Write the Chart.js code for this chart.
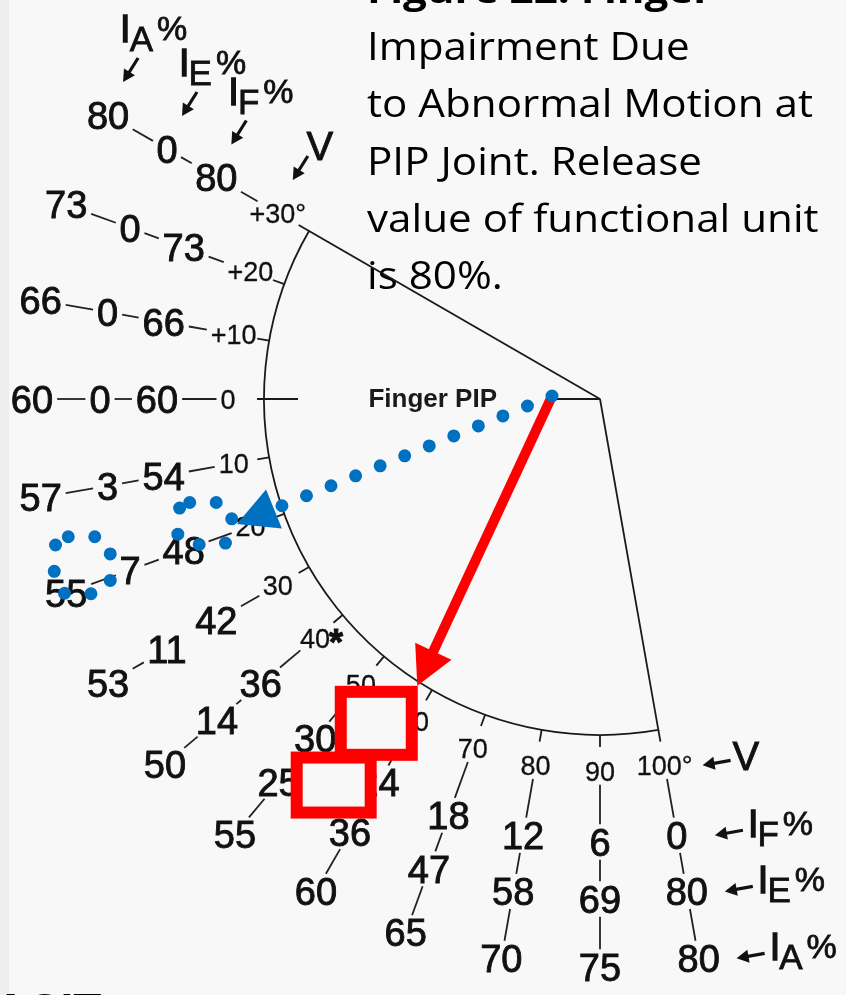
<!DOCTYPE html>
<html>
<head>
<meta charset="utf-8">
<script src="https://cdn.jsdelivr.net/npm/chart.js@4"></script>
<style>
  html, body { margin: 0; padding: 0; background: #f8f8f8; }
  #wrap { width: 846px; height: 995px; position: relative; }
</style>
</head>
<body>
<div id="wrap"><canvas id="pip-chart"></canvas></div>
<script>
// PIP joint angle (V) and the impairment values read along each spoke
const angles = [-30, -20, -10, 0, 10, 20, 30, 40, 50, 60, 70, 80, 90, 100];
const angleLabels = ['+30°', '+20', '+10', '0', '10', '20', '30', '40*', '50', '60', '70', '80', '90', '100°'];
const impFlexion = [80, 73, 66, 60, 54, 48, 42, 36, 30, 24, 18, 12, 6, 0];      // IF%
const impExtension = [0, 0, 0, 0, 3, 7, 11, 14, 25, 36, 47, 58, 69, 80];         // IE%
const impAnkylosis = [80, 73, 66, 60, 57, 55, 53, 50, 55, 60, 65, 70, 75, 80];   // IA%

// annotation angles (hand marks on the figure)
const redArrowAngle = 57.5;
const blueArrowAngle = 19;
const answerAngle = 55.4;
const circledAngle = 20;

const titleLines = ['Figure 22. Finger', 'Impairment Due', 'to Abnormal Motion at',
  'PIP Joint. Release', 'value of functional unit', 'is 80%.'];

const CX = 600, CY = 399;   // joint centre
const ARC_R = 336;
const FONT = '"Liberation Sans", Arial, sans-serif';
const BLUE = '#0070c0';
const RED = '#ff0000';
const BG = '#f8f8f8';

function polar(deg, r) {
  const a = deg * Math.PI / 180;
  return { x: CX - r * Math.cos(a), y: CY + r * Math.sin(a) };
}

const rings = [
  { name: 'V', radius: 372, text: angleLabels, size: 27, weight: 0.3 },
  { name: 'F', radius: 443, text: impFlexion, size: 38, weight: 0.9 },
  { name: 'E', radius: 500, text: impExtension, size: 38, weight: 0.9 },
  { name: 'A', radius: 568, text: impAnkylosis, size: 38, weight: 0.9 },
];

// text with a thin outline so it reads as heavy as the scanned figure
function heavyText(ctx, txt, x, y, weight) {
  ctx.fillText(txt, x, y);
  if (weight > 0) {
    ctx.lineWidth = weight;
    ctx.strokeStyle = ctx.fillStyle;
    ctx.strokeText(txt, x, y);
  }
}

function drawArrow(ctx, from, to, width, headLen, headHalf, color) {
  const dx = to.x - from.x, dy = to.y - from.y;
  const len = Math.hypot(dx, dy);
  const ux = dx / len, uy = dy / len;
  const bx = to.x - ux * headLen, by = to.y - uy * headLen;
  ctx.strokeStyle = color;
  ctx.fillStyle = color;
  ctx.lineWidth = width;
  ctx.lineCap = 'butt';
  ctx.beginPath();
  ctx.moveTo(from.x, from.y);
  ctx.lineTo(bx + ux * 2, by + uy * 2);
  ctx.stroke();
  ctx.beginPath();
  ctx.moveTo(to.x, to.y);
  ctx.lineTo(bx - uy * headHalf, by + ux * headHalf);
  ctx.lineTo(bx + uy * headHalf, by - ux * headHalf);
  ctx.closePath();
  ctx.fill();
}

function drawIndexLabel(ctx, x, y, sub) {
  ctx.fillStyle = '#111';
  ctx.textAlign = 'left';
  ctx.textBaseline = 'alphabetic';
  ctx.font = '38px ' + FONT;
  heavyText(ctx, 'I', x, y, 1.4);
  const wI = ctx.measureText('I').width;
  ctx.font = '35px ' + FONT;
  heavyText(ctx, sub, x + wI - 1, y + 9, 0.8);
  const wS = ctx.measureText(sub).width;
  ctx.font = '34px ' + FONT;
  heavyText(ctx, '%', x + wI + wS + 3, y - 2, 0.8);
}

const diagramPlugin = {
  id: 'pipDiagram',
  beforeDraw(chart) {
    const { ctx, width, height } = chart;
    ctx.save();
    ctx.fillStyle = BG;
    ctx.fillRect(0, 0, width, height);
    ctx.fillStyle = '#eeeeee';
    ctx.fillRect(0, 0, 9, height);
    ctx.restore();
  },
  beforeDatasetsDraw(chart) {
    const { ctx } = chart;
    const sx = chart.scales.x, sy = chart.scales.y;
    const P = p => ({ x: sx.getPixelForValue(p.x), y: sy.getPixelForValue(p.y) });
    const k = sx.getPixelForValue(1) - sx.getPixelForValue(0);
    const c = P({ x: CX, y: CY });
    ctx.save();

    // title block
    ctx.fillStyle = '#000';
    ctx.textAlign = 'left';
    ctx.textBaseline = 'alphabetic';
    ctx.font = '38px "Open Sans", sans-serif';
    const fit = 446 / ctx.measureText(titleLines[2]).width;
    titleLines.forEach((line, i) => {
      ctx.save();
      ctx.font = (i === 0 ? 'bold ' : '') + '38px "Open Sans", sans-serif';
      ctx.translate(367, 3 + i * 57.2);
      ctx.scale(fit, 1);
      ctx.fillText(line, 0, 0);
      ctx.restore();
    });

    // sector outline
    ctx.strokeStyle = '#1a1a1a';
    ctx.lineWidth = 1.8;
    const top = P(polar(angles[0], ARC_R));
    const a0 = Math.PI - angles[0] * Math.PI / 180;
    const a1 = Math.PI - angles[angles.length - 1] * Math.PI / 180;
    ctx.beginPath();
    ctx.moveTo(c.x, c.y);
    ctx.lineTo(top.x, top.y);
    ctx.arc(c.x, c.y, ARC_R * k, a0, a1, true);
    ctx.lineTo(c.x, c.y);
    ctx.stroke();

    // short baseline at 0 deg toward the label
    const base = P(polar(0, 45));
    ctx.beginPath();
    ctx.moveTo(c.x, c.y);
    ctx.lineTo(base.x, base.y);
    ctx.stroke();

    // ticks
    angles.forEach(a => {
      const inner = a === 0 ? ARC_R - 34 : ARC_R;
      const outer = a === 0 ? ARC_R + 7 : ARC_R + 12;
      const p1 = P(polar(a, inner)), p2 = P(polar(a, outer));
      ctx.beginPath();
      ctx.moveTo(p1.x, p1.y);
      ctx.lineTo(p2.x, p2.y);
      ctx.stroke();
    });

    ctx.fillStyle = '#1a1a1a';
    ctx.font = 'bold 26px ' + FONT;
    ctx.textAlign = 'right';
    ctx.fillText('Finger PIP', c.x - 103, c.y + 8);

    // cut-off text at the bottom-left
    ctx.fillStyle = '#000';
    ctx.textAlign = 'left';
    ctx.font = 'bold 46px ' + FONT;
    ctx.fillText('ACIT', -6, 1026);
    ctx.restore();
  },
  afterDatasetsDraw(chart) {
    const { ctx } = chart;
    const sx = chart.scales.x, sy = chart.scales.y;
    const P = p => ({ x: sx.getPixelForValue(p.x), y: sy.getPixelForValue(p.y) });
    ctx.save();

    // value labels on every spoke
    ctx.fillStyle = '#111';
    ctx.textBaseline = 'alphabetic';
    const boxes = rings.map((ring, d) => {
      const meta = chart.getDatasetMeta(d);
      return meta.data.map((el, i) => {
        const raw = String(ring.text[i]);
        const star = raw.endsWith('*');
        const txt = star ? raw.slice(0, -1) : raw;
        ctx.font = ring.size + 'px ' + FONT;
        const w = ctx.measureText(txt).width;
        const h = ring.size * 0.72;
        ctx.textAlign = 'center';
        heavyText(ctx, txt, el.x, el.y + h / 2, ring.weight);
        if (star) {
          ctx.font = 'bold 36px ' + FONT;
          ctx.textAlign = 'left';
          heavyText(ctx, '*', el.x + w / 2 - 1, el.y + h / 2 + 7, 1);
        }
        return { x: el.x, y: el.y, w, h };
      });
    });

    // connectors between successive labels
    ctx.strokeStyle = '#222';
    ctx.lineWidth = 1.8;
    const gap = 4;
    const trim = (b, ux, uy) => Math.min(
      Math.abs(ux) > 1e-6 ? b.w / 2 / Math.abs(ux) : Infinity,
      Math.abs(uy) > 1e-6 ? b.h / 2 / Math.abs(uy) : Infinity) + gap;
    angles.forEach((a, i) => {
      for (let d = 0; d < rings.length - 1; d++) {
        const p = boxes[d][i], q = boxes[d + 1][i];
        const dx = q.x - p.x, dy = q.y - p.y;
        const len = Math.hypot(dx, dy);
        const ux = dx / len, uy = dy / len;
        const t0 = trim(p, ux, uy), t1 = len - trim(q, ux, uy);
        if (t1 - t0 < 3) continue;
        ctx.beginPath();
        ctx.moveTo(p.x + ux * t0, p.y + uy * t0);
        ctx.lineTo(p.x + ux * t1, p.y + uy * t1);
        ctx.stroke();
      }
    });

    // legend pointers at both ends of the scale
    const first = 0, last = angles.length - 1;
    rings.forEach((ring, d) => {
      const pt = boxes[d][first];
      const tip = { x: pt.x + 15, y: pt.y - 33 };
      drawArrow(ctx, { x: tip.x + 15, y: tip.y - 24 }, tip, 3.2, 12, 6.5, '#111');
      ctx.fillStyle = '#111';
      if (ring.name === 'V') {
        ctx.font = '40px ' + FONT;
        ctx.textAlign = 'center';
        heavyText(ctx, 'V', tip.x + 27, tip.y - 20, 0.9);
      } else {
        drawIndexLabel(ctx, tip.x - 3, tip.y - 40, ring.name);
      }
      const pb = boxes[d][last];
      const tipB = { x: pb.x + 38, y: pb.y };
      drawArrow(ctx, { x: tipB.x + 28, y: tipB.y - 5 }, tipB, 3.2, 12, 6.5, '#111');
      ctx.fillStyle = '#111';
      if (ring.name === 'V') {
        ctx.font = '40px ' + FONT;
        ctx.textAlign = 'left';
        heavyText(ctx, 'V', tipB.x + 30, tipB.y + 5, 0.9);
      } else {
        drawIndexLabel(ctx, tipB.x + 33, tipB.y + 2, ring.name);
      }
    });

    // red answer boxes at the marked angle
    const answerBoxes = [
      { r: 394, w: 71, h: 63 },
      { r: 469, w: 74, h: 55 },
    ];
    ctx.lineWidth = 12;
    ctx.strokeStyle = RED;
    ctx.fillStyle = BG;
    answerBoxes.forEach(b => {
      const p = P(polar(answerAngle, b.r));
      ctx.fillRect(p.x - b.w / 2, p.y - b.h / 2, b.w, b.h);
    });
    answerBoxes.forEach(b => {
      const p = P(polar(answerAngle, b.r));
      ctx.strokeRect(p.x - b.w / 2, p.y - b.h / 2, b.w, b.h);
    });

    // red arrow from the joint label to the arc
    const origin = P(polar(0, 48));
    origin.y -= 3;
    drawArrow(ctx, origin, P(polar(redArrowAngle, 340)), 10, 38, 20, RED);

    // blue dotted arrow
    const blueTip = P(polar(blueArrowAngle, 384));
    const dx = blueTip.x - origin.x, dy = blueTip.y - origin.y;
    const len = Math.hypot(dx, dy);
    const ux = dx / len, uy = dy / len;
    ctx.strokeStyle = BLUE;
    ctx.fillStyle = BLUE;
    ctx.lineWidth = 13;
    ctx.lineCap = 'round';
    ctx.setLineDash([0, 26.5]);
    ctx.beginPath();
    ctx.moveTo(origin.x, origin.y);
    ctx.lineTo(blueTip.x - ux * 30, blueTip.y - uy * 30);
    ctx.stroke();

    // dotted loops around the circled values
    const ci = angles.indexOf(circledAngle);
    const loops = [
      { box: boxes[1][ci], ox: 21, oy: -27, w: 54, h: 42, rr: 12 },
      { box: boxes[3][ci], ox: 16, oy: -28, w: 56, h: 57, rr: 14 },
    ];
    loops.forEach(l => {
      const cx = l.box.x + l.ox, cy = l.box.y + l.oy;
      ctx.beginPath();
      ctx.roundRect(cx - l.w / 2, cy - l.h / 2, l.w, l.h, l.rr);
      ctx.stroke();
    });
    ctx.setLineDash([]);

    const hb = { x: blueTip.x - ux * 40, y: blueTip.y - uy * 40 };
    ctx.beginPath();
    ctx.moveTo(blueTip.x, blueTip.y);
    ctx.lineTo(hb.x - uy * 21, hb.y + ux * 21);
    ctx.lineTo(hb.x + uy * 21, hb.y - ux * 21);
    ctx.closePath();
    ctx.fill();

    ctx.restore();
  }
};

const ctx = document.getElementById('pip-chart').getContext('2d');
new Chart(ctx, {
  type: 'scatter',
  data: {
    datasets: rings.map(ring => ({
      label: ring.name,
      data: angles.map(a => polar(a, ring.radius)),
      pointRadius: 0,
      showLine: false,
    })),
  },
  options: {
    responsive: true,
    maintainAspectRatio: false,
    animation: false,
    events: [],
    layout: { padding: 0 },
    scales: {
      x: { type: 'linear', min: 0, max: 846, display: false },
      y: { type: 'linear', min: 0, max: 995, reverse: true, display: false },
    },
    plugins: {
      legend: { display: false },
      tooltip: { enabled: false },
    },
  },
  plugins: [diagramPlugin],
});
</script>
</body>
</html>
